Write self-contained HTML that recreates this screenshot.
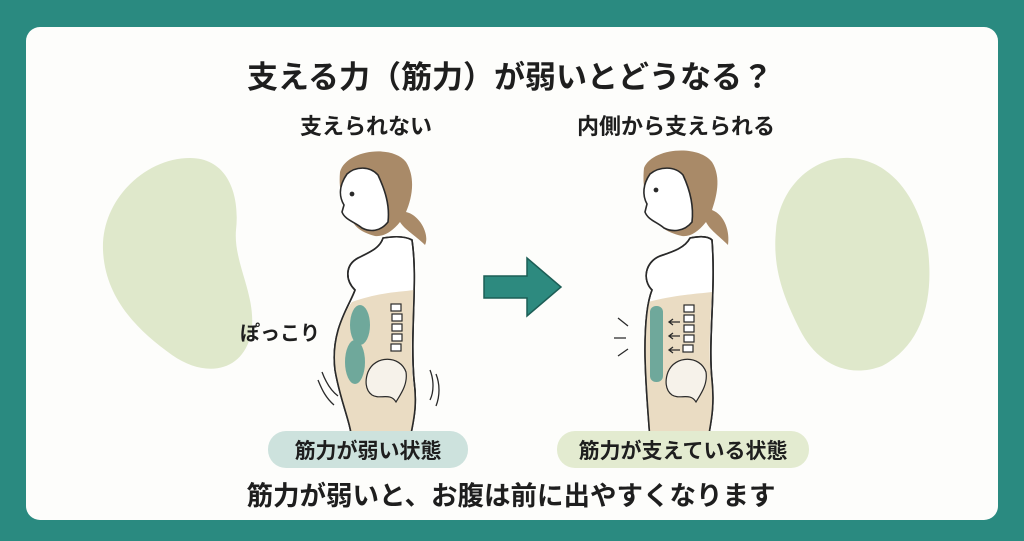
<!DOCTYPE html>
<html><head><meta charset="utf-8"><style>
html,body{margin:0;padding:0;background:#2a8a80;}
svg{display:block}
text{font-family:"Liberation Sans","Noto Sans CJK JP",sans-serif;font-weight:bold;fill:#1e1e1e}
</style></head><body>
<svg width="1024" height="541" viewBox="0 0 1024 541" xmlns="http://www.w3.org/2000/svg">
<rect x="0" y="0" width="1024" height="541" fill="#2a8a80"/>
<rect x="26" y="27" width="972" height="493" rx="14" fill="#fdfdfb"/>
<!-- blobs -->
<path d="M190 158 C228 158 240 195 236 230 C233 265 260 300 250 338 C240 372 205 378 172 355 C140 332 105 300 103 250 C101 200 145 158 190 158 Z" fill="#dfe8cb"/>
<path d="M850 158 C892 160 920 200 928 250 C934 300 922 345 882 366 C845 380 815 360 800 330 C785 300 772 270 776 230 C780 185 815 156 850 158 Z" fill="#dfe8cb"/>
<!-- titles -->
<text x="510" y="88" font-size="31" text-anchor="middle">支える力（筋力）が弱いとどうなる？</text>
<text x="366" y="134" font-size="22" text-anchor="middle">支えられない</text>
<text x="676" y="134" font-size="22" text-anchor="middle">内側から支えられる</text>
<!-- arrow -->
<path d="M484 276 L527 276 L527 258 L561 287 L527 316 L527 298 L484 298 Z" fill="#2d8a7f" stroke="#1d5e56" stroke-width="1.5"/>
<!-- left figure -->
<g stroke="#2a2a2a" stroke-width="1.6" fill="none">
 <path d="M383 238 C395 236 405 236 412 240 C418 280 410 330 414 380 C418 410 412 425 410 440 L352 440 C350 420 340 400 335 370 C330 330 350 305 355 290 C345 280 345 265 358 258 C370 252 380 248 383 238 Z" fill="#fff"/>
 <path d="M352 302 C380 292 400 292 414 290 C412 330 410 360 414 390 C418 415 412 430 410 440 L352 440 C350 420 340 400 335 370 C330 340 342 315 352 302 Z" fill="#eadcc3" stroke="none"/>
 <path d="M383 238 C395 236 405 236 412 240 C418 280 410 330 414 380 C418 410 412 425 410 440 M352 440 C350 420 340 400 335 370 C330 330 350 305 355 290 C345 280 345 265 358 258 C370 252 380 248 383 238"/>
 <ellipse cx="360" cy="325" rx="10" ry="20" fill="#6fa89b" stroke="none"/>
 <ellipse cx="355" cy="362" rx="10" ry="22" fill="#6fa89b" stroke="none"/>
 <g fill="#fff" stroke-width="1.2"><rect x="391" y="304" width="10" height="7"/><rect x="392" y="314" width="10" height="7"/><rect x="392" y="324" width="10" height="7"/><rect x="392" y="334" width="10" height="7"/><rect x="391" y="344" width="10" height="7"/></g>
 <path d="M368 372 C375 355 400 355 406 372 C408 385 400 395 396 402 C390 392 380 400 372 395 C365 390 365 380 368 372 Z" fill="#f6f2ea" stroke-width="1.2"/>
 <path d="M322 372 C325 380 330 390 338 396 M318 380 C322 390 326 398 334 405 M430 370 C434 380 434 392 430 400 M436 374 C440 384 440 396 436 406" stroke-width="1.3"/>
 <path d="M340 172 C346 150 392 144 406 162 C416 178 412 198 406 212 C420 215 430 235 425 245 C415 235 405 230 400 222 C392 232 383 237 375 236 C360 232 350 225 350 210 C345 205 338 195 340 172 Z" fill="#a98a68" stroke="none"/>
 <path d="M347 174 C356 166 370 166 378 175 C385 190 390 205 388 222 C380 232 370 232 362 228 C355 222 345 220 342 212 L344 205 C338 195 340 184 347 174 Z" fill="#fff"/>
 <circle cx="352" cy="194" r="1.6" fill="#2a2a2a"/>
</g>
<text x="240" y="340" font-size="20">ぽっこり</text>
<!-- right figure -->
<g stroke="#2a2a2a" stroke-width="1.6" fill="none">
 <path d="M690 238 C700 236 708 236 712 240 C716 290 708 340 712 380 C715 410 710 425 708 440 L650 440 C648 410 645 380 645 350 C645 320 648 300 652 290 C642 280 645 262 660 256 C672 252 685 248 690 238 Z" fill="#fff"/>
 <path d="M648 302 C675 295 695 294 712 292 C710 330 708 360 712 385 C715 410 710 428 708 440 L650 440 C648 410 645 380 645 350 C645 330 646 315 648 302 Z" fill="#eadcc3" stroke="none"/>
 <path d="M690 238 C700 236 708 236 712 240 C716 290 708 340 712 380 C715 410 710 425 708 440 M650 440 C648 410 645 380 645 350 C645 320 648 300 652 290 C642 280 645 262 660 256 C672 252 685 248 690 238"/>
 <rect x="650" y="306" width="13" height="76" rx="6" fill="#6fa89b" stroke="none"/>
 <g fill="#fff" stroke-width="1.2"><rect x="684" y="305" width="10" height="7"/><rect x="684" y="315" width="10" height="7"/><rect x="684" y="325" width="10" height="7"/><rect x="684" y="335" width="10" height="7"/><rect x="683" y="345" width="10" height="7"/></g>
 <path d="M670 322 H680 M673 319 L669 322 L673 325 M670 336 H680 M673 333 L669 336 L673 339 M670 350 H680 M673 347 L669 350 L673 353" stroke-width="1.3"/>
 <path d="M668 372 C675 355 700 355 706 372 C708 385 700 395 696 402 C690 392 680 400 672 395 C665 390 665 380 668 372 Z" fill="#f6f2ea" stroke-width="1.2"/>
 <path d="M618 318 L628 326 M614 338 H626 M618 356 L628 349" stroke-width="1.3"/>
 <path d="M644 168 C652 148 698 144 712 162 C722 178 716 198 712 210 C725 215 730 232 728 245 C718 235 710 230 706 222 C698 232 690 237 682 236 C665 232 655 225 653 210 C646 200 642 188 644 168 Z" fill="#a98a68" stroke="none"/>
 <path d="M650 174 C660 166 675 166 683 175 C690 190 694 205 692 222 C684 232 672 232 664 228 C657 222 648 220 645 212 L647 204 C642 195 643 184 650 174 Z" fill="#fff"/>
 <circle cx="656" cy="190" r="1.6" fill="#2a2a2a"/>
</g>
<!-- pills -->
<rect x="268" y="431" width="200" height="37" rx="18" fill="#cde2dd"/>
<text x="368" y="458" font-size="21" text-anchor="middle">筋力が弱い状態</text>
<rect x="557" y="431" width="252" height="37" rx="18" fill="#e3ebd0"/>
<text x="683" y="458" font-size="21" text-anchor="middle">筋力が支えている状態</text>
<text x="511" y="505" font-size="26.5" text-anchor="middle">筋力が弱いと、お腹は前に出やすくなります</text>
</svg>
</body></html>
